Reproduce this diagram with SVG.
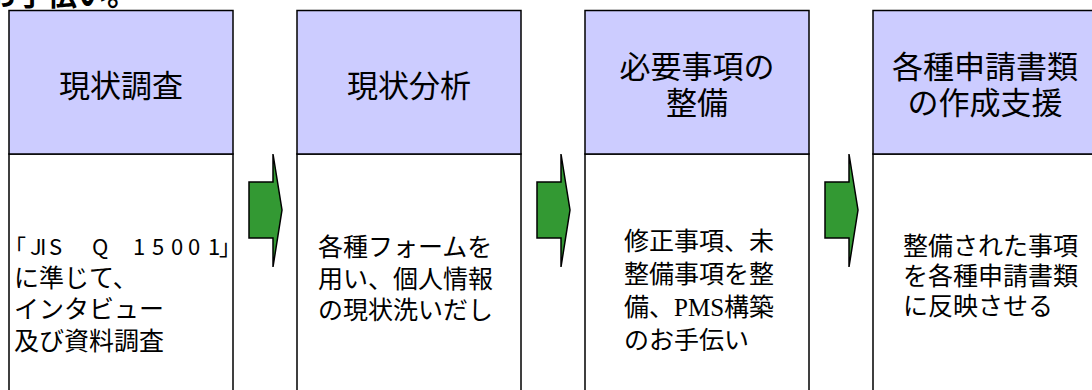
<svg xmlns="http://www.w3.org/2000/svg" width="1092" height="390" viewBox="0 0 1092 390">
<style>
.hd{fill:#ccccff;stroke:#000;stroke-width:1.5}
.bd{fill:#fff;stroke:#000;stroke-width:1.5}
.ht{font-family:"Noto Sans CJK JP","Noto Sans",sans-serif;font-size:31px;fill:#000;text-anchor:middle}
.bt{font-family:"Noto Sans CJK JP","Noto Sans",sans-serif;font-size:25px;fill:#000}
.ar{fill:#339933;stroke:#000;stroke-width:1.5;stroke-linejoin:miter}
.ti{font-family:"Noto Sans CJK JP",sans-serif;font-size:30px;font-weight:bold;fill:#000}
</style>
<rect width="1092" height="390" fill="#fff"/>
<text class="ti" x="-13" y="5">お手伝い。</text>
<g id="node1">
<rect class="bd" x="9" y="154" width="224" height="250"/>
<rect class="hd" x="9" y="10.5" width="224" height="143.5"/>
<text class="ht" x="121" y="97">現状調査</text>
<text class="bt" style="font-size:22px" x="4 30 40 49 70 92 120 133 152 171 188 208 219" y="255">「JIS Q 15001」</text>
<text class="bt"><tspan x="14" y="287">に準じて、</tspan><tspan x="14" y="318">インタビュー</tspan><tspan x="14" y="350">及び資料調査</tspan></text>
</g>
<g id="node2">
<rect class="bd" x="297" y="154" width="224" height="250"/>
<rect class="hd" x="297" y="10.5" width="224" height="143.5"/>
<text class="ht" x="409" y="97">現状分析</text>
<text class="bt"><tspan x="318" y="256">各種フォームを</tspan><tspan x="318" y="288">用い、個人情報</tspan><tspan x="318" y="319">の現状洗いだし</tspan></text>
</g>
<g id="node3">
<rect class="bd" x="585" y="154" width="224" height="250"/>
<rect class="hd" x="585" y="10.5" width="224" height="143.5"/>
<text class="ht"><tspan x="697" y="78">必要事項の</tspan><tspan x="697" y="114">整備</tspan></text>
<text class="bt"><tspan x="624" y="250">修正事項、未</tspan><tspan x="624" y="283">整備事項を整</tspan><tspan x="624" y="316">備、<tspan font-family="Liberation Serif,serif">PMS</tspan>構築</tspan><tspan x="624" y="349">のお手伝い</tspan></text>
</g>
<g id="node4">
<rect class="bd" x="873" y="154" width="224" height="250"/>
<rect class="hd" x="873" y="10.5" width="224" height="143.5"/>
<text class="ht"><tspan x="985" y="78">各種申請書類</tspan><tspan x="985" y="114">の作成支援</tspan></text>
<text class="bt"><tspan x="903" y="255">整備された事項</tspan><tspan x="903" y="285">を各種申請書類</tspan><tspan x="903" y="315">に反映させる</tspan></text>
</g>
<g id="connectors">
<polygon class="ar" points="249,182 273,182 273,154 282,210 273,267 273,238 249,238"/>
<polygon class="ar" points="537,182 561,182 561,154 570,210 561,267 561,238 537,238"/>
<polygon class="ar" points="825,182 849,182 849,154 858,210 849,267 849,238 825,238"/>
</g>
</svg>
